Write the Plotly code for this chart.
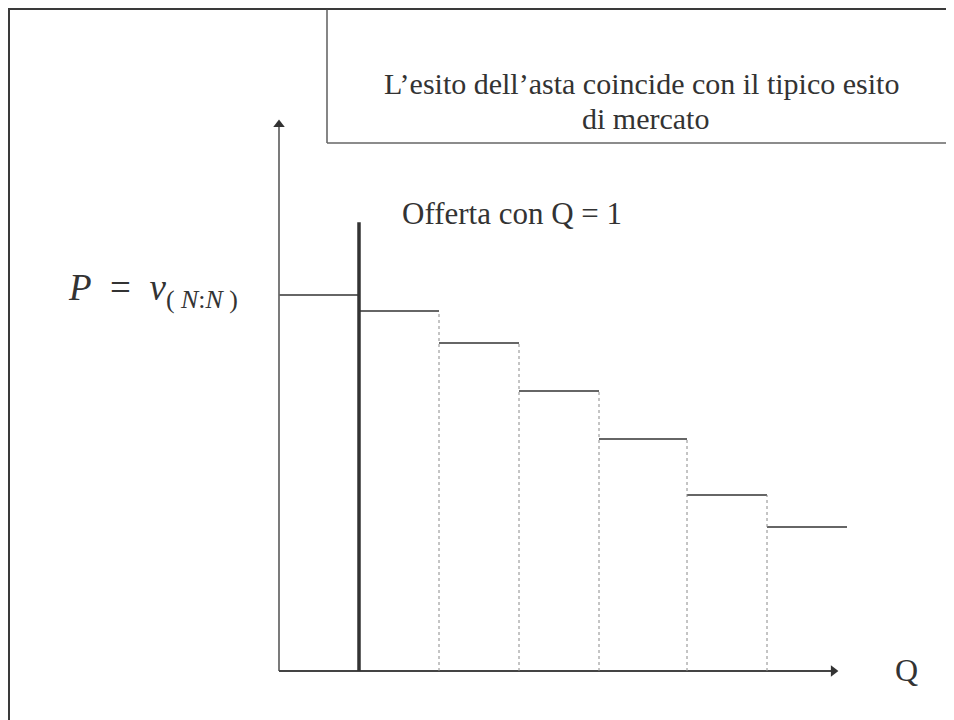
import plotly.graph_objects as go

# ---- data ----
q_edges = [0, 1, 2, 3, 4, 5.1, 6.1, 7.1]      # quantity breakpoints of the demand steps
prices = [47, 45, 41, 35, 29, 22, 18]          # step heights (price)
offer_q = 1                                    # supply: Q = 1
offer_top = 56.1
y_axis_top = 69
x_axis_end = 7.0

title_line1 = "L’esito dell’asta coincide con il tipico esito"
title_line2 = "di mercato"
offer_label = "Offerta con Q = 1"
price_label = "<i>P</i>  =  <i>v</i><sub>( <i>N</i>:<i>N</i> )</sub>"
q_label = "Q"

W, H = 954, 720
OFF = 8                      # page body margin of the written html
X0PX, Y0PX = 279 - OFF, 671 - OFF
XU, YU = 80, 8


def px(x):
    return (x - OFF) / W


def py(y):
    return 1 - (y - OFF) / H


fig = go.Figure()

# axes
fig.add_trace(go.Scatter(x=[0, 0], y=[0, y_axis_top - 0.7], mode="lines",
                         line=dict(color="#333333", width=1.3), hoverinfo="skip", showlegend=False))
fig.add_trace(go.Scatter(x=[0, x_axis_end - 0.07], y=[0, 0], mode="lines",
                         line=dict(color="#444444", width=1.8), hoverinfo="skip", showlegend=False))
fig.add_trace(go.Scatter(x=[0], y=[y_axis_top - 0.7], mode="markers",
                         marker=dict(symbol="triangle-up", size=10, color="#333333"),
                         hoverinfo="skip", showlegend=False))
fig.add_trace(go.Scatter(x=[x_axis_end - 0.07], y=[0], mode="markers",
                         marker=dict(symbol="triangle-right", size=10, color="#333333"),
                         hoverinfo="skip", showlegend=False))

# demand steps (horizontal)
for i, p in enumerate(prices):
    fig.add_trace(go.Scatter(x=[q_edges[i], q_edges[i + 1]], y=[p, p], mode="lines",
                             line=dict(color="#666666", width=2), hoverinfo="skip",
                             showlegend=False))
# dotted verticals at step edges (except the offer line at Q=1)
for i in range(1, len(prices)):
    e = q_edges[i]
    if e == offer_q:
        continue
    fig.add_trace(go.Scatter(x=[e, e], y=[0, prices[i - 1]], mode="lines",
                             line=dict(color="#8a8a8a", width=1, dash="dot"), hoverinfo="skip",
                             showlegend=False))

# offer line
fig.add_trace(go.Scatter(x=[offer_q, offer_q], y=[0, offer_top], mode="lines",
                         line=dict(color="#333333", width=3.5), hoverinfo="skip",
                         showlegend=False))

xmin = -X0PX / XU
xmax = (W - X0PX) / XU
ymin = -(H - Y0PX) / YU
ymax = Y0PX / YU

serif = "Liberation Serif"
annotations = [
    dict(x=px(641), y=py(84), xref="paper", yref="paper", text=title_line1, showarrow=False,
         xanchor="center", yanchor="middle", font=dict(family=serif, size=30, color="#333333")),
    dict(x=px(645), y=py(118), xref="paper", yref="paper", text=title_line2, showarrow=False,
         xanchor="center", yanchor="middle", font=dict(family=serif, size=30, color="#333333")),
    dict(x=px(512), y=py(213), xref="paper", yref="paper", text=offer_label, showarrow=False,
         xanchor="center", yanchor="middle", font=dict(family=serif, size=31, color="#333333")),
    dict(x=px(906), y=py(670), xref="paper", yref="paper", text=q_label, showarrow=False,
         xanchor="center", yanchor="middle", font=dict(family=serif, size=32, color="#333333")),
    dict(x=px(153), y=py(291), xref="paper", yref="paper", text=price_label, showarrow=False,
         xanchor="center", yanchor="middle", font=dict(family=serif, size=37, color="#333333")),
]

shapes = [
    # slide frame (left + top)
    dict(type="line", xref="paper", yref="paper", x0=px(8.5), y0=py(740), x1=px(8.5), y1=py(8.5),
         line=dict(color="#3a3a3a", width=3)),
    dict(type="line", xref="paper", yref="paper", x0=px(7), y0=py(8.5), x1=px(970), y1=py(8.5),
         line=dict(color="#3a3a3a", width=3)),
    # title box
    dict(type="line", xref="paper", yref="paper", x0=px(327), y0=py(9), x1=px(327), y1=py(143),
         line=dict(color="#444444", width=1.3)),
    dict(type="line", xref="paper", yref="paper", x0=px(327), y0=py(143), x1=px(970), y1=py(143),
         line=dict(color="#666666", width=1.6)),
]

fig.update_layout(
    width=W, height=H, margin=dict(l=0, r=0, t=0, b=0),
    paper_bgcolor="white", plot_bgcolor="white",
    xaxis=dict(range=[xmin, xmax], visible=False, fixedrange=True),
    yaxis=dict(range=[ymin, ymax], visible=False, fixedrange=True),
    annotations=annotations, shapes=shapes, showlegend=False,
)

fig.write_html("out.html")
